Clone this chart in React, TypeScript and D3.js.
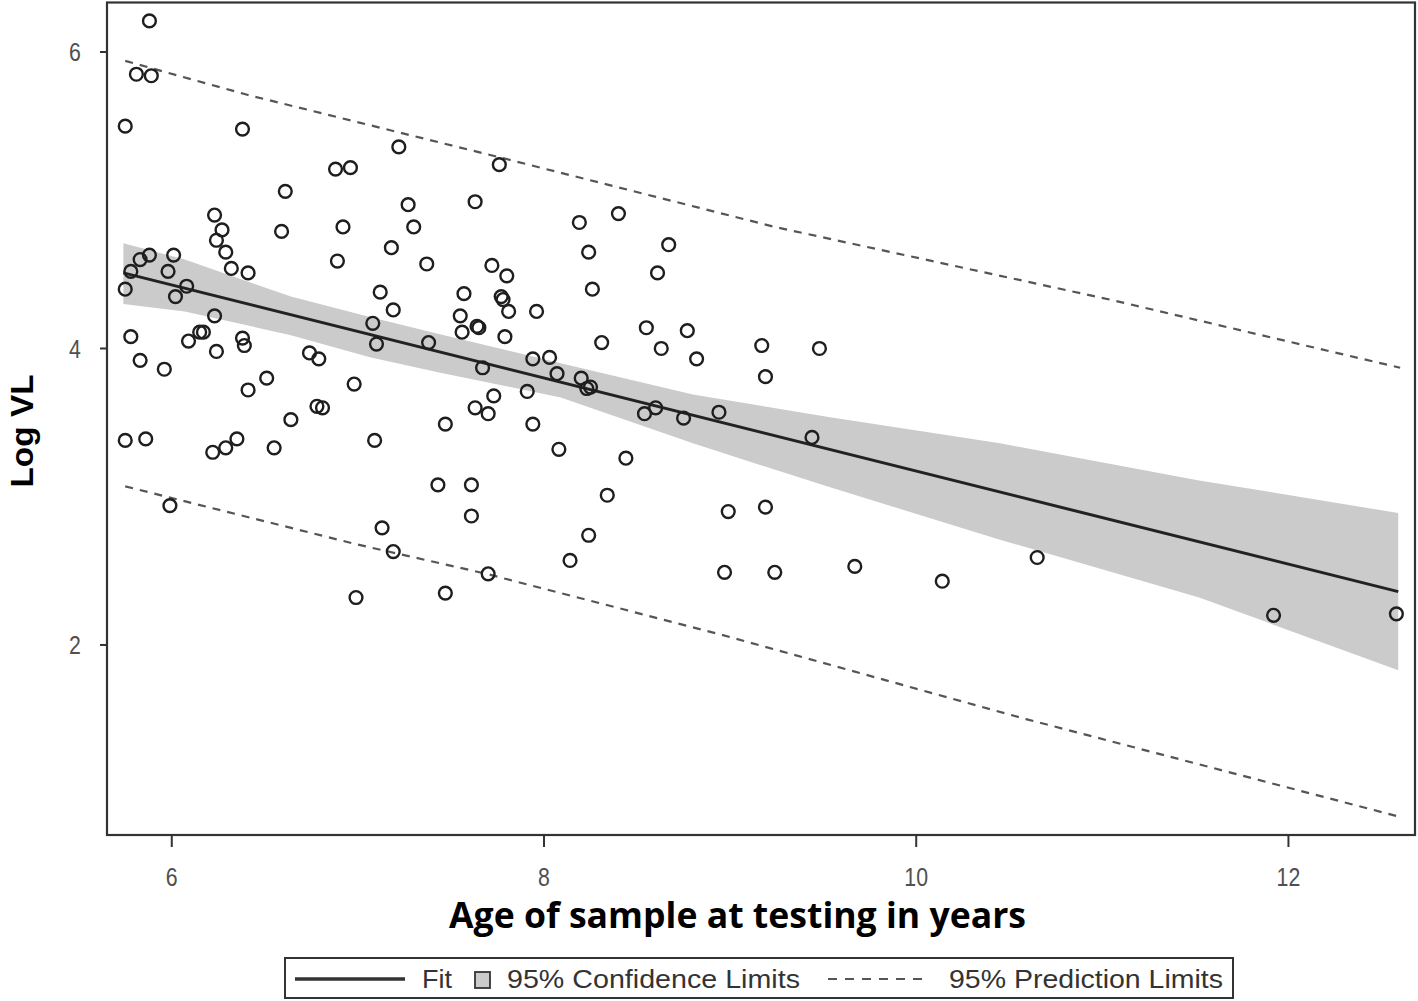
import React from "react";
import * as d3 from "d3";

// ---- Data ----
const ageX: number[] = [
  5.88, 5.81, 5.89, 5.75, 6.38, 7.22, 6.88, 6.96, 6.61, 7.27,
  6.23, 6.27, 6.59, 6.92, 7.30, 6.24, 6.29, 7.18, 5.88, 6.01,
  5.83, 6.89, 6.32, 7.37, 5.78, 5.98, 6.41, 5.75, 6.08, 6.02,
  7.12, 7.19, 7.57, 6.23, 7.08, 7.55, 7.56, 5.78, 6.15, 6.17,
  6.09, 6.38, 6.39, 7.38, 7.10, 6.24, 6.74, 6.79, 5.83, 5.96,
  6.51, 6.98, 6.41, 6.64, 6.78, 6.81, 7.47, 5.75, 5.86, 6.22,
  6.29, 6.35, 6.55, 7.09, 7.43, 5.99, 7.13, 7.19, 6.99, 7.47,
  7.76, 7.63, 8.19, 8.40, 8.24, 8.67, 7.72, 7.80, 8.61, 8.26,
  7.77, 7.78, 7.81, 7.96, 7.64, 7.65, 7.79, 8.55, 8.77, 8.31,
  8.63, 8.82, 7.94, 8.03, 8.07, 7.67, 8.20, 8.25, 8.23, 7.91,
  7.73, 7.63, 7.70, 8.54, 8.60, 8.75, 8.94, 7.94, 8.08, 8.44,
  7.61, 7.61, 8.34, 8.24, 8.14, 7.70, 9.17, 9.48, 9.19, 9.44,
  8.99, 9.19, 8.97, 9.24, 9.67, 10.14, 10.65, 11.92, 12.58,
];
const logVL: number[] = [
  6.21, 5.85, 5.84, 5.50, 5.48, 5.36, 5.21, 5.22, 5.06, 4.97,
  4.90, 4.80, 4.79, 4.82, 4.82, 4.73, 4.65, 4.68, 4.63, 4.63,
  4.60, 4.59, 4.54, 4.57, 4.52, 4.52, 4.51, 4.40, 4.42, 4.35,
  4.38, 4.26, 4.37, 4.22, 4.17, 4.22, 4.11, 4.08, 4.11, 4.11,
  4.05, 4.07, 4.02, 4.04, 4.03, 3.98, 3.97, 3.93, 3.92, 3.86,
  3.80, 3.76, 3.72, 3.52, 3.61, 3.60, 3.49, 3.38, 3.39, 3.30,
  3.33, 3.39, 3.33, 3.38, 3.08, 2.94, 2.79, 2.63, 2.32, 2.35,
  5.24, 4.99, 4.85, 4.91, 4.65, 4.70, 4.56, 4.49, 4.51, 4.40,
  4.35, 4.33, 4.25, 4.25, 4.15, 4.14, 4.08, 4.14, 4.12, 4.04,
  4.00, 3.93, 3.93, 3.94, 3.83, 3.87, 3.80, 3.74, 3.73, 3.71,
  3.68, 3.60, 3.56, 3.56, 3.60, 3.53, 3.57, 3.49, 3.32, 3.26,
  3.08, 2.87, 3.01, 2.74, 2.57, 2.48, 4.02, 4.00, 3.81, 3.40,
  2.90, 2.93, 2.49, 2.49, 2.53, 2.43, 2.59, 2.20, 2.21,
];

const fitX: number[] = [5.74, 12.59];
const fitY: number[] = [4.51, 2.36];

const clX: number[] = [5.74, 6.07, 6.64, 7.07, 7.43, 8.09, 8.80, 9.52, 10.45, 11.52, 12.59];
const clLow: number[] = [4.30, 4.25, 4.09, 3.94, 3.84, 3.67, 3.36, 3.07, 2.71, 2.32, 1.83];
const clHigh: number[] = [4.71, 4.60, 4.35, 4.21, 4.10, 3.90, 3.69, 3.54, 3.36, 3.11, 2.89];

const plUpperX: number[] = [5.75, 6.41, 7.76, 9.24, 11.04, 12.60];
const plUpperY: number[] = [5.94, 5.71, 5.29, 4.82, 4.33, 3.87];
const plLowerX: number[] = [5.75, 6.99, 7.69, 8.95, 10.59, 12.60];
const plLowerY: number[] = [3.07, 2.68, 2.48, 2.07, 1.50, 0.84];

const xTicks: number[] = [6, 8, 10, 12];
const yTicks: number[] = [2, 4, 6];

const xTitle = "Age of sample at testing in years";
const yTitle = "Log VL";
const legendLabels: string[] = ["Fit", "95% Confidence Limits", "95% Prediction Limits"];

export default function App() {
  const W = 1418;
  const H = 1001;
  const left = 107, right = 1415, top = 2.5, bottom = 835;

  const x = d3.scaleLinear().domain([5.652, 12.68]).range([left, right]);
  const y = d3.scaleLinear().domain([0.718, 6.334]).range([bottom, top]);

  const pts = ageX.map((v, i) => ({ x: v, y: logVL[i] }));
  const band = clX.map((v, i) => ({ x: v, lo: clLow[i], hi: clHigh[i] }));

  const areaGen = d3
    .area<{ x: number; lo: number; hi: number }>()
    .x((d) => x(d.x))
    .y0((d) => y(d.lo))
    .y1((d) => y(d.hi));

  const lineGen = d3
    .line<[number, number]>()
    .x((d) => x(d[0]))
    .y((d) => y(d[1]));

  const fitPath = lineGen(fitX.map((v, i) => [v, fitY[i]] as [number, number]));
  const upPath = lineGen(plUpperX.map((v, i) => [v, plUpperY[i]] as [number, number]));
  const loPath = lineGen(plLowerX.map((v, i) => [v, plLowerY[i]] as [number, number]));

  const tickFont = "'Liberation Sans', Arial, sans-serif";
  const titleFont = "'Open Sans', 'Liberation Sans', sans-serif";

  return (
    <svg
      width={W}
      height={H}
      style={{ position: "absolute", left: 0, top: 0, background: "#fff" }}
    >
      <defs>
        <clipPath id="plotClip">
          <rect x={left} y={top} width={right - left} height={bottom - top} />
        </clipPath>
      </defs>
      <rect x={0} y={0} width={W} height={H} fill="#fff" />

      <g clipPath="url(#plotClip)">
        <path d={areaGen(band) || ""} fill="#cbcbcb" stroke="none" />
        <path d={upPath || ""} fill="none" stroke="#555" strokeWidth={2.2} strokeDasharray="8,7" />
        <path d={loPath || ""} fill="none" stroke="#555" strokeWidth={2.2} strokeDasharray="8,7" />
        <path d={fitPath || ""} fill="none" stroke="#222" strokeWidth={3} />
        {pts.map((p, i) => (
          <circle
            key={i}
            cx={x(p.x)}
            cy={y(p.y)}
            r={6.4}
            fill="none"
            stroke="#1e1e1e"
            strokeWidth={2.4}
          />
        ))}
      </g>

      {/* frame */}
      <rect
        x={left}
        y={top}
        width={right - left}
        height={bottom - top}
        fill="none"
        stroke="#333"
        strokeWidth={2.2}
      />

      {/* y ticks */}
      {yTicks.map((t) => (
        <g key={"y" + t}>
          <line x1={left - 7} x2={left} y1={y(t)} y2={y(t)} stroke="#333" strokeWidth={2} />
          <text
            transform={`translate(75,${y(t)}) scale(0.82,1)`}
            dy="0.36em"
            textAnchor="middle"
            fontFamily={tickFont}
            fontSize={26}
            fill="#505050"
          >
            {t}
          </text>
        </g>
      ))}

      {/* x ticks */}
      {xTicks.map((t) => (
        <g key={"x" + t}>
          <line x1={x(t)} x2={x(t)} y1={bottom} y2={bottom + 12} stroke="#333" strokeWidth={2} />
          <text
            transform={`translate(${x(t)},886) scale(0.82,1)`}
            textAnchor="middle"
            fontFamily={tickFont}
            fontSize={26}
            fill="#505050"
          >
            {t}
          </text>
        </g>
      ))}

      {/* axis titles */}
      <text
        x={737.5}
        y={928}
        textAnchor="middle"
        fontFamily={titleFont}
        fontWeight="bold"
        fontSize={36}
        fill="#000"
        textLength={577}
        lengthAdjust="spacingAndGlyphs"
      >
        {xTitle}
      </text>
      <text
        transform="translate(33,431) rotate(-90)"
        textAnchor="middle"
        fontFamily="'Liberation Sans', Arial, sans-serif"
        fontWeight="bold"
        fontSize={32}
        fill="#000"
        textLength={113}
        lengthAdjust="spacingAndGlyphs"
      >
        {yTitle}
      </text>

      {/* legend */}
      <g>
        <rect x={285} y={958} width={948} height={40} fill="#fff" stroke="#333" strokeWidth={2} />
        <line x1={295} x2={405} y1={979} y2={979} stroke="#333" strokeWidth={3.5} />
        <text
          x={422}
          y={988}
          fontFamily={tickFont}
          fontSize={26}
          fill="#333"
          textLength={30}
          lengthAdjust="spacingAndGlyphs"
        >
          {legendLabels[0]}
        </text>
        <rect x={475} y={972} width={15} height={16} fill="#cbcbcb" stroke="#333" strokeWidth={1.8} />
        <text
          x={507}
          y={988}
          fontFamily={tickFont}
          fontSize={26}
          fill="#333"
          textLength={293}
          lengthAdjust="spacingAndGlyphs"
        >
          {legendLabels[1]}
        </text>
        <line
          x1={828}
          x2={924}
          y1={979}
          y2={979}
          stroke="#555"
          strokeWidth={2}
          strokeDasharray="9,8"
        />
        <text
          x={949}
          y={988}
          fontFamily={tickFont}
          fontSize={26}
          fill="#333"
          textLength={274}
          lengthAdjust="spacingAndGlyphs"
        >
          {legendLabels[2]}
        </text>
      </g>
    </svg>
  );
}
